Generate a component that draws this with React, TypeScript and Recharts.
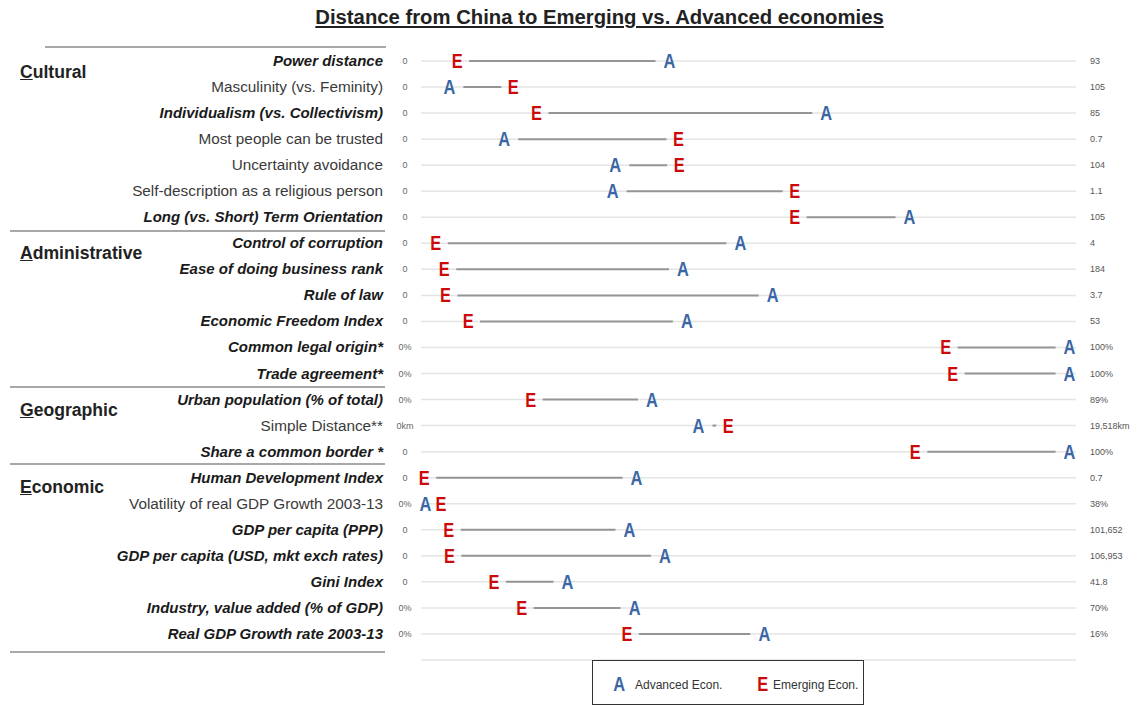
import React from 'react';
import { ComposedChart, Bar, Scatter, XAxis, YAxis, CartesianGrid } from 'recharts';

// rows, top to bottom (last one is an empty spacer row that only carries a gridline)
const indicators = [
  'Power distance',
  'Masculinity (vs. Feminity)',
  'Individualism  (vs. Collectivism)',
  'Most  people can be trusted',
  'Uncertainty avoidance',
  'Self-description as a religious person',
  'Long (vs. Short) Term Orientation',
  'Control of corruption',
  'Ease of doing business rank',
  'Rule of law',
  'Economic Freedom Index',
  'Common legal origin*',
  'Trade agreement*',
  'Urban population (% of total)',
  'Simple Distance**',
  'Share a common border *',
  'Human Development Index',
  'Volatility of real GDP Growth 2003-13',
  'GDP per capita (PPP)',
  'GDP per capita (USD, mkt exch rates)',
  'Gini Index',
  'Industry, value added (% of GDP)',
  'Real GDP Growth rate 2003-13',
  '',
];

const boldRows = [
  true, false, true, false, false, false, true,
  true, true, true, true, true, true,
  true, false, true,
  true, false, true, true, true, true, true,
  false,
];

// distance as % of each indicator's range (0 = China)
const advanced = [38.0, 3.9, 62.3, 12.4, 29.6, 29.2, 75.2, 49.0, 40.1, 54.0, 40.7, 100, 100, 35.3, 42.5, 100, 32.9, 0.2, 31.8, 37.3, 22.2, 32.6, 52.7, null];
const emerging = [5.1, 13.8, 17.4, 39.4, 39.5, 57.4, 57.4, 1.8, 3.1, 3.3, 6.8, 80.8, 81.9, 16.5, 47.1, 76.1, 0, 2.6, 3.8, 3.9, 10.8, 15.1, 31.4, null];

const minLabels = ['0', '0', '0', '0', '0', '0', '0', '0', '0', '0', '0', '0%', '0%', '0%', '0km', '0', '0', '0%', '0', '0', '0', '0%', '0%', ''];
const maxLabels = ['93', '105', '85', '0.7', '104', '1.1', '105', '4', '184', '3.7', '53', '100%', '100%', '89%', '19,518km', '100%', '0.7', '38%', '101,652', '106,953', '41.8', '70%', '16%', ''];

const groups = [
  { name: 'Cultural', top: 62 },
  { name: 'Administrative', top: 243 },
  { name: 'Geographic', top: 400 },
  { name: 'Economic', top: 477 },
];
const separators = [
  { top: 46, left: 45, width: 341 },
  { top: 230, left: 10, width: 375 },
  { top: 386, left: 10, width: 375 },
  { top: 463, left: 10, width: 375 },
  { top: 651, left: 10, width: 375 },
];

const BLUE = '#3a66a3';
const RED = '#cc0a0a';
const FONT = '"Liberation Sans", Arial, sans-serif';

const data = indicators.map((name, i) => ({
  name,
  adv: advanced[i],
  emg: emerging[i],
  range: advanced[i] == null ? null : [Math.min(advanced[i] as number, emerging[i] as number), Math.max(advanced[i] as number, emerging[i] as number)],
}));

const RowTick = (props: any) => {
  const { y, payload } = props;
  const i = payload.index;
  const bold = boldRows[i];
  return (
    <g>
      <text
        x={383}
        y={y}
        dy={5}
        textAnchor="end"
        fontFamily={FONT}
        fontSize={bold ? 15 : 15.3}
        fontWeight={bold ? 'bold' : 'normal'}
        fontStyle={bold ? 'italic' : 'normal'}
        fill={bold ? '#1a1a1a' : '#3a3a3a'}
      >
        {indicators[i]}
      </text>
      <text x={405} y={y} dy={3} textAnchor="middle" fontFamily={FONT} fontSize={9} fill="#666">
        {minLabels[i]}
      </text>
      <text x={1090} y={y} dy={3} textAnchor="start" fontFamily={FONT} fontSize={9} fill="#555">
        {maxLabels[i]}
      </text>
    </g>
  );
};

const Connector = (props: any) => {
  const { x, y, width, height, payload } = props;
  if (!payload || payload.adv == null) return <g />;
  const cy = y + height / 2;
  const advLeft = payload.adv <= payload.emg;
  const x1 = x + (advLeft ? 14 : 12);
  const x2 = x + width - (advLeft ? 12 : 14);
  if (x2 - x1 < 1) return <g />;
  return <line x1={x1} x2={x2} y1={cy} y2={cy} stroke="#959595" strokeWidth={2} />;
};

const letterShape = (letter: string, color: string, key: string) => (props: any) => {
  const { cx, cy, payload } = props;
  if (!payload || payload[key] == null) return <g />;
  return (
    <text
      x={cx}
      y={cy}
      dy={7}
      textAnchor="middle"
      fontFamily={FONT}
      fontWeight="bold"
      fontSize={20}
      fill={color}
      transform={`translate(${cx} 0) scale(0.82 1) translate(${-cx} 0)`}
    >
      {letter}
    </text>
  );
};

export default function App() {
  return (
    <div style={{ position: 'absolute', left: 0, top: 0, width: 1147, height: 705, background: '#fff', fontFamily: FONT }}>
      <div
        style={{
          position: 'absolute',
          top: 6,
          left: 26,
          width: 1147,
          textAlign: 'center',
          fontSize: 20.3,
          fontWeight: 'bold',
          textDecoration: 'underline',
          color: '#222',
        }}
      >
        Distance from China to Emerging vs. Advanced economies
      </div>

      {separators.map((s, i) => (
        <div key={i} style={{ position: 'absolute', top: s.top, left: s.left, width: s.width, height: 2, background: '#a8a8a8' }} />
      ))}

      {groups.map((g) => (
        <div key={g.name} style={{ position: 'absolute', top: g.top, left: 20, fontSize: 17.6, fontWeight: 'bold', color: '#222' }}>
          <span style={{ textDecoration: 'underline' }}>{g.name[0]}</span>
          {g.name.slice(1)}
        </div>
      ))}

      <div style={{ position: 'absolute', left: 0, top: 0 }}>
        <ComposedChart
          width={1147}
          height={705}
          layout="vertical"
          data={data}
          margin={{ top: 48, right: 71, bottom: 32, left: 0 }}
        >
          <CartesianGrid horizontal vertical={false} syncWithTicks stroke="#e4e4e4" strokeWidth={1.5} />
          <XAxis type="number" domain={[-0.5, 101]} hide />
          <YAxis
            type="category"
            dataKey="name"
            width={421}
            axisLine={false}
            tickLine={false}
            interval={0}
            tick={<RowTick />}
          />
          <Bar dataKey="range" barSize={10} shape={<Connector />} isAnimationActive={false} />
          <Scatter dataKey="adv" shape={letterShape('A', BLUE, 'adv')} isAnimationActive={false} />
          <Scatter dataKey="emg" shape={letterShape('E', RED, 'emg')} isAnimationActive={false} />
        </ComposedChart>
      </div>

      <div
        style={{
          position: 'absolute',
          left: 592,
          top: 660,
          width: 270,
          height: 43,
          border: '1px solid #333',
          fontSize: 12,
          color: '#333',
        }}
      >
        <span style={{ position: 'absolute', left: 19, top: 12, color: BLUE, fontWeight: 'bold', fontSize: 20, transform: 'scaleX(0.82)' }}>A</span>
        <span style={{ position: 'absolute', left: 42, top: 17 }}>Advanced Econ.</span>
        <span style={{ position: 'absolute', left: 163, top: 12, color: RED, fontWeight: 'bold', fontSize: 20, transform: 'scaleX(0.82)' }}>E</span>
        <span style={{ position: 'absolute', left: 180, top: 17 }}>Emerging Econ.</span>
      </div>
    </div>
  );
}
